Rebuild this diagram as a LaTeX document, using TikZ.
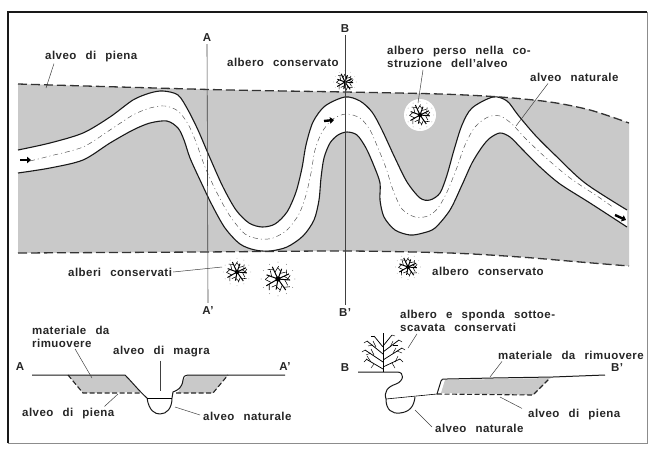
\documentclass[tikz,border=0pt]{standalone}
\usepackage{fontspec}
\setmainfont{Liberation Sans}[LetterSpace=4,WordSpace=2.5]
\usetikzlibrary{arrows.meta}
\definecolor{floodgray}{gray}{0.79}
\begin{document}
\begin{tikzpicture}[x=1pt,y=-1pt,
  lbl/.style={font=\bfseries\fontsize{11.5}{13}\selectfont, inner sep=0pt, text=black!85},
  leader/.style={line width=0.5pt, black!75},
  bank/.style={line width=1.1pt, black!90, line join=round},
  floodline/.style={line width=1.3pt, black!80, dash pattern=on 9pt off 4pt},
  lowline/.style={line width=0.45pt, black!70, dash pattern=on 5pt off 3pt on 1pt off 3pt},
  section/.style={line width=0.6pt, black!75},
  flow/.style={line width=2.4pt, -{Triangle[length=4pt,width=6.5pt]}},
  plantree/.pic={
    \foreach \a/\l in {5/9,55/10,100/8,150/10,200/9,245/10,290/8,335/9}{
      \draw[line width=1pt] (0,0) -- (\a:\l);
      \draw[line width=0.55pt] (\a:{0.55*\l}) -- ({\a+28}:{0.95*\l});
      \draw[line width=0.55pt] (\a:{0.75*\l}) -- ({\a-22}:{1.05*\l});
    }
    \fill (0,0) circle (2);
    \foreach \a in {0,30,...,330}{\fill[black!45] (\a:12.5) circle (0.4);}
  }]
\useasboundingbox (0,0) rectangle (651,453);

% ---------- frame ----------
\draw[line width=0.6pt, black!45] (647,12) -- (647,443) -- (8,443);
\draw[line width=1.4pt, black!90] (8,443) -- (8,12) -- (647,12);

% ---------- plan: flood bed ----------
\fill[floodgray]
  plot[smooth] coordinates {(18,84) (120,87) (230,90) (345,92) (440,94) (500,97) (550,102) (590,110) (629,123)}
  -- plot[smooth] coordinates {(629,266) (580,262) (520,257) (450,253) (345,251) (200,252) (18,253)}
  -- cycle;

% natural channel (white band)
\fill[white]
  plot[smooth] coordinates {(18,150) (50,143) (83,133) (110,117) (133,100) (150,93) (163,91) (178,95) (188,110) (198,130) (210,158) (223,187) (236,210) (249,223) (262,227) (275,224) (287,212) (296,192) (302,168) (306,145) (313,122) (325,106) (345,97) (360,101) (372,112) (382,130) (395,158) (407,182) (420,198) (430,200) (440,193) (447,175) (454,150) (462,125) (472,108) (493,97) (507,101) (518,115) (535,135) (555,155) (585,183) (627,210)}
  -- plot[smooth] coordinates {(627,227) (590,203) (560,184) (540,167) (522,149) (510,137) (500,133) (490,138) (482,147) (472,163) (462,185) (450,210) (435,228) (423,233) (410,235) (395,230) (384,217) (380,200) (380,183) (374,166) (366,148) (357,135) (347,132) (338,135) (330,143) (324,158) (321,178) (319,200) (314,220) (303,236) (287,247) (270,251) (255,250) (240,244) (225,228) (212,205) (200,180) (190,158) (184,140) (178,128) (167,121) (150,123) (133,130) (110,143) (83,160) (50,168) (18,173)}
  -- cycle;

% banks
\draw[bank] plot[smooth] coordinates {(18,150) (50,143) (83,133) (110,117) (133,100) (150,93) (163,91) (178,95) (188,110) (198,130) (210,158) (223,187) (236,210) (249,223) (262,227) (275,224) (287,212) (296,192) (302,168) (306,145) (313,122) (325,106) (345,97) (360,101) (372,112) (382,130) (395,158) (407,182) (420,198) (430,200) (440,193) (447,175) (454,150) (462,125) (472,108) (493,97) (507,101) (518,115) (535,135) (555,155) (585,183) (627,210)};
\draw[bank] plot[smooth] coordinates {(18,173) (50,168) (83,160) (110,143) (133,130) (150,123) (167,121) (178,128) (184,140) (190,158) (200,180) (212,205) (225,228) (240,244) (255,250) (270,251) (287,247) (303,236) (314,220) (319,200) (321,178) (324,158) (330,143) (338,135) (347,132) (357,135) (366,148) (374,166) (380,183) (380,200) (384,217) (395,230) (410,235) (423,233) (435,228) (450,210) (462,185) (472,163) (482,147) (490,138) (500,133) (510,137) (522,149) (540,167) (560,184) (590,203) (627,227)};

% low-water line inside the channel
\draw[lowline] plot[smooth] coordinates {(30,161) (50,156) (83,147) (110,130) (133,115) (150,108) (165,106) (178,111) (188,124) (196,142) (205,167) (217,193) (230,216) (245,234) (260,239) (273,238) (287,230) (299,214) (306,195) (311,173) (315,150) (322,132) (333,119) (346,114) (360,118) (370,130) (378,148) (386,168) (393,190) (402,209) (415,217) (428,216) (438,208) (447,192) (456,170) (465,145) (475,127) (488,117) (500,116) (512,124) (525,138) (545,157) (570,178) (600,198) (614,208)};

% flood bed limits
\draw[floodline] plot[smooth] coordinates {(18,84) (120,87) (230,90) (345,92) (440,94) (500,97) (550,102) (590,110) (629,123)};
\draw[floodline] plot[smooth] coordinates {(18,253) (200,252) (345,251) (450,253) (520,257) (580,262) (629,266)};

% flow direction
\draw[flow] (20,160) -- (31,160);
\draw[flow] (324,121) -- (334,120);
\draw[flow] (615,215) -- (626,220);

% trees in plan
\fill[white] (420,115) circle (16);
\pic[scale=0.9] at (345,82) {plantree};
\pic[scale=1.1] at (420,115) {plantree};
\pic[scale=1.1] at (237,272) {plantree};
\pic[scale=1.35] at (278,279) {plantree};
\pic[scale=1.0] at (408,267) {plantree};

% section lines
\node[lbl] (nA) at (207,38) {A};
\node[lbl] (nAp) at (208,311) {A'};
\node[lbl] (nB) at (345,29) {B};
\node[lbl] (nBp) at (345,313) {B'};
\draw[section] ([yshift=-2pt]nA.south) -- ([yshift=4pt]nAp.north);
\draw[section] ([yshift=-2pt]nB.south) -- ([yshift=4pt]nBp.north);

% plan labels
\node[lbl, anchor=west] (pienaTop) at (45,57) {alveo di piena};
\coordinate (pienaTopEnd) at (46,88);
\draw[leader] ([xshift=9pt,yshift=-1pt]pienaTop.south west) -- (pienaTopEnd);

\node[lbl, anchor=west] (consTop) at (227,62) {albero conservato};

\node[lbl, anchor=north west, align=left] (perso) at (387,46) {albero perso nella co-\\struzione dell'alveo};
\coordinate (persoEnd) at (418,103);
\draw[leader] ([xshift=36pt,yshift=-2pt]perso.south west) -- (persoEnd);

\node[lbl, anchor=west] (natTop) at (530,77) {alveo naturale};
\coordinate (natTopEnd) at (516,126);
\draw[leader] ([xshift=18pt,yshift=-2pt]natTop.south west) -- (natTopEnd);

\node[lbl, anchor=west] (alberi) at (68,272) {alberi conservati};
\coordinate (alberiEnd) at (222,267);
\draw[leader] ([xshift=1pt]alberi.east) -- (alberiEnd);

\node[lbl, anchor=west] (consBot) at (432,271) {albero conservato};

% ---------- cross-section A-A' ----------
\fill[floodgray] (68,375) -- (125,375) -- (140,392) -- (83,393) -- cycle;
\fill[floodgray] (178,393) -- (183,380) -- (188,375) -- (228,375) -- (213,393) -- cycle;
\draw[line width=1.1pt, dash pattern=on 5pt off 2.5pt, black!85] (68,375) -- (83,393) -- (140,393);
\draw[line width=1.1pt, dash pattern=on 5pt off 2.5pt, black!85] (176,393) -- (213,393) -- (228,375);
\draw[line width=1pt, black!90, line join=round]
  (32,375) -- (125,375) .. controls (132,382) and (140,392) .. (147,398)
  .. controls (149,411) and (155,414) .. (160,414) .. controls (167,414) and (172,408) .. (172,398)
  -- (173,392) .. controls (178,390) and (182,388) .. (183,380) .. controls (184,376) .. (188,375) -- (285,375);
\draw[line width=0.6pt] (147,398) -- (172,398);

\node[lbl] (sA) at (20,367) {A};
\node[lbl] (sAp) at (285,367) {A'};
\node[lbl, anchor=north west, align=left] (matA) at (32,326) {materiale da\\rimuovere};
\coordinate (matAEnd) at (92,378);
\draw[leader] ([xshift=43pt,yshift=-1pt]matA.south west) -- (matAEnd);
\node[lbl, anchor=west] (magra) at (113,352) {alveo di magra};
\coordinate (magraEnd) at (160,391);
\draw[leader] ([xshift=47pt,yshift=-3pt]magra.south west) -- (magraEnd);
\node[lbl, anchor=west] (pienaA) at (22,414) {alveo di piena};
\coordinate (pienaAEnd) at (118,394);
\draw[leader] ([xshift=-10pt,yshift=2pt]pienaA.north east) -- (pienaAEnd);
\node[lbl, anchor=west] (natA) at (203,416) {alveo naturale};
\coordinate (natAEnd) at (175,407);
\draw[leader] ([xshift=-3pt,yshift=1pt]natA.west) -- (natAEnd);

% ---------- cross-section B-B' ----------
\fill[floodgray] (441,393) -- (445,380) -- (550,378) -- (533,395) -- cycle;
\draw[line width=1.1pt, dash pattern=on 5pt off 2.5pt, black!85] (437,394) -- (533,395) -- (550,378);
\draw[line width=1pt, black!90, line join=round]
  (358,372) -- (397,372) .. controls (405,372) and (404,381) .. (396,384)
  .. controls (387,387) and (384,392) .. (386,399)
  .. controls (386,410) and (392,414) .. (400,413) .. controls (410,412) and (414,406) .. (415,397);
\draw[line width=0.6pt] (386,399) -- (437,394);
\draw[line width=1pt, black!90, line join=round]
  (437,394) -- (441,381) .. controls (442,379) .. (447,379) -- (493,378) -- (553,377) -- (605,375);

% undercut bank tree (elevation)
\draw[line width=1pt] (383,372) -- (383,336);
\foreach \sx/\sy/\ex/\ey in {383/369/366/359, 383/367/400/359, 383/362/365/350, 383/360/402/348,
  383/354/367/341, 383/352/399/340, 383/347/374/336, 383/346/392/335, 383/342/383/333}{
  \draw[line width=0.75pt] (\sx,\sy) -- (\ex,\ey);
}
\foreach \px/\py/\qx/\qy in {371/362/367/356, 374/364/371/368, 395/362/398/356, 392/363/395/368,
  371/353/366/355, 374/355/371/349, 397/351/402/353, 393/353/396/348,
  373/345/368/346, 376/347/373/341, 393/345/398/345, 390/347/393/341,
  367/359/364/362, 400/359/403/362, 365/350/362/352, 402/348/405/350,
  367/341/364/343, 399/340/402/342, 374/336/371/336, 392/335/395/336}{
  \draw[line width=0.45pt] (\px,\py) -- (\qx,\qy);
}

\node[lbl] (sB) at (345,368) {B};
\node[lbl] (sBp) at (617,368) {B'};
\node[lbl, anchor=north west, align=left] (sponda) at (400,310) {albero e sponda sottoe-\\scavata conservati};
\coordinate (spondaEnd) at (408,348);
\draw[leader] ([xshift=17pt,yshift=-2pt]sponda.south west) -- (spondaEnd);
\node[lbl, anchor=west] (matB) at (498,355) {materiale da rimuovere};
\coordinate (matBEnd) at (490,377);
\draw[leader] ([xshift=4pt,yshift=-2pt]matB.south west) -- (matBEnd);
\node[lbl, anchor=west] (pienaB) at (528,415) {alveo di piena};
\coordinate (pienaBEnd) at (500,397);
\draw[leader] ([xshift=-6pt,yshift=1pt]pienaB.north west) -- (pienaBEnd);
\node[lbl, anchor=west] (natB) at (435,428) {alveo naturale};
\coordinate (natBEnd) at (415,410);
\draw[leader] ([xshift=-3pt,yshift=1pt]natB.west) -- (natBEnd);
\end{tikzpicture}
\end{document}
